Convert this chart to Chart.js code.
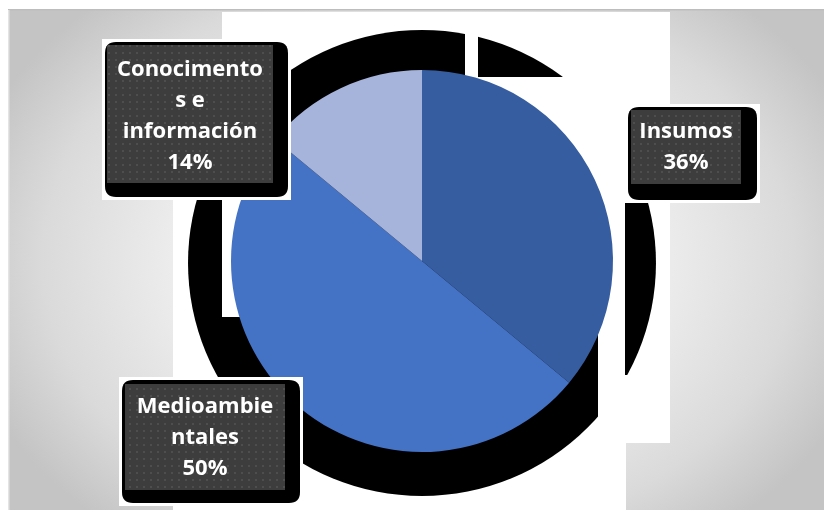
<!DOCTYPE html>
<html><head><meta charset="utf-8">
<script src="https://cdn.jsdelivr.net/npm/chart.js@4"></script>
<style>html,body{margin:0;padding:0;background:#fff}#wrap{width:824px;height:510px;position:relative}</style>
</head><body><div id="wrap"><canvas id="c" width="824" height="510"></canvas></div>
<script>
// ---- data ----
const categories = ['Insumos', 'Medioambientales', 'Conocimentos e información'];
const shares = [36, 50, 14];
const labelLines = [['Insumos'], ['Medioambie', 'ntales'], ['Conocimento', 's e', 'información']];
const sliceColors = ['#365da0', '#4472c4', '#a6b4dc'];

// ---- decoration (layout only) ----
function roundRect(ctx, x, y, w, h, r) {
  ctx.beginPath();
  ctx.moveTo(x + r, y);
  ctx.lineTo(x + w - r, y); ctx.quadraticCurveTo(x + w, y, x + w, y + r);
  ctx.lineTo(x + w, y + h - r); ctx.quadraticCurveTo(x + w, y + h, x + w - r, y + h);
  ctx.lineTo(x + r, y + h); ctx.quadraticCurveTo(x, y + h, x, y + h - r);
  ctx.lineTo(x, y + r); ctx.quadraticCurveTo(x, y, x + r, y);
  ctx.closePath();
}

const backdrop = {
  id: 'backdrop',
  beforeDraw(chart) {
    const ctx = chart.ctx;
    ctx.save();
    ctx.fillStyle = '#ffffff';
    ctx.fillRect(0, 0, chart.width, chart.height);
    // grey gradient frame
    ctx.save();
    ctx.translate(418, 260);
    ctx.scale(1, 0.75);
    const g = ctx.createRadialGradient(0, 0, 0, 0, 0, 470);
    g.addColorStop(0, '#fbfbfb');
    g.addColorStop(0.45, '#f1f1f1');
    g.addColorStop(0.8, '#dadada');
    g.addColorStop(1, '#c4c4c4');
    ctx.fillStyle = g;
    ctx.fillRect(-420, -360, 840, 720);
    ctx.restore();
    ctx.fillStyle = '#ffffff';
    ctx.fillRect(0, 0, 824, 9);
    ctx.fillRect(0, 0, 8, 510);
    ctx.fillStyle = '#bdbdbd';
    ctx.fillRect(8, 9, 816, 1.5);
    ctx.fillStyle = '#e4e4e4';
    ctx.fillRect(8, 10, 1.5, 500);
    // white plot panels
    ctx.fillStyle = '#ffffff';
    ctx.fillRect(222, 12, 448, 431);
    ctx.fillRect(173, 200, 453, 310);

    // black shadow ring around the pie
    const arc = chart.getDatasetMeta(0).data[0];
    if (arc) {
      const cx = arc.x, cy = arc.y, r = arc.outerRadius;
      ctx.fillStyle = '#000000';
      ctx.beginPath();
      ctx.ellipse(cx, cy + 2, r * 1.225, r * 1.22, 0, 0, Math.PI * 2);
      ctx.fill();
      ctx.fillStyle = '#ffffff';
      ctx.fillRect(465, 12, 13, 70);
      ctx.fillRect(478, 77, 192, 123);
      ctx.fillRect(598, 200, 27, 175);
      ctx.fillRect(598, 375, 72, 68);
      ctx.fillRect(222, 200, 40, 117);
    }
    ctx.restore();
  }
};

function dotPattern(ctx) {
  const p = document.createElement('canvas');
  p.width = 7; p.height = 7;
  const c = p.getContext('2d');
  c.fillStyle = '#3d3d3d';
  c.fillRect(0, 0, 7, 7);
  c.fillStyle = '#4e4e4e';
  c.fillRect(3, 3, 2, 2);
  return ctx.createPattern(p, 'repeat');
}

const boxLayout = [
  { outer: [628, 107, 129, 93], inner: [631, 110, 110, 74], tx: 686, ty: 147 },
  { outer: [122, 380, 178, 123], inner: [125, 384, 160, 106], tx: 205, ty: 438 },
  { outer: [105, 42, 183, 155], inner: [107, 45, 166, 138], tx: 190, ty: 116 }
];

const labelBoxes = {
  id: 'labelBoxes',
  afterDatasetsDraw(chart) {
    const ctx = chart.ctx;
    const meta = chart.getDatasetMeta(0);
    const pat = dotPattern(ctx);
    ctx.save();
    meta.data.forEach((el, i) => {
      const b = boxLayout[i];
      const [ox, oy, ow, oh] = b.outer;
      const [ix, iy, iw, ih] = b.inner;
      ctx.fillStyle = '#ffffff';
      ctx.fillRect(ox - 3, oy - 3, ow + 6, oh + 6);
      ctx.fillStyle = '#000000';
      roundRect(ctx, ox, oy, ow, oh, 11);
      ctx.fill();
      ctx.fillStyle = pat;
      ctx.fillRect(ix, iy, iw, ih);
      const lines = labelLines[i].concat([shares[i] + '%']);
      const lh = 31;
      ctx.fillStyle = '#ffffff';
      ctx.font = 'bold 22px "Open Sans"';
      ctx.textAlign = 'center';
      ctx.textBaseline = 'middle';
      const start = b.ty - (lines.length - 1) * lh / 2;
      lines.forEach((t, k) => ctx.fillText(t, b.tx, start + k * lh));
    });
    ctx.restore();
  }
};

new Chart(document.getElementById('c'), {
  type: 'pie',
  data: {
    labels: categories,
    datasets: [{
      data: shares,
      backgroundColor: sliceColors,
      borderWidth: 0
    }]
  },
  options: {
    responsive: false,
    animation: false,
    layout: { padding: { top: 70, bottom: 58, left: 231, right: 211 } },
    plugins: { legend: { display: false }, tooltip: { enabled: false } }
  },
  plugins: [backdrop, labelBoxes]
});
</script>
</body></html>
